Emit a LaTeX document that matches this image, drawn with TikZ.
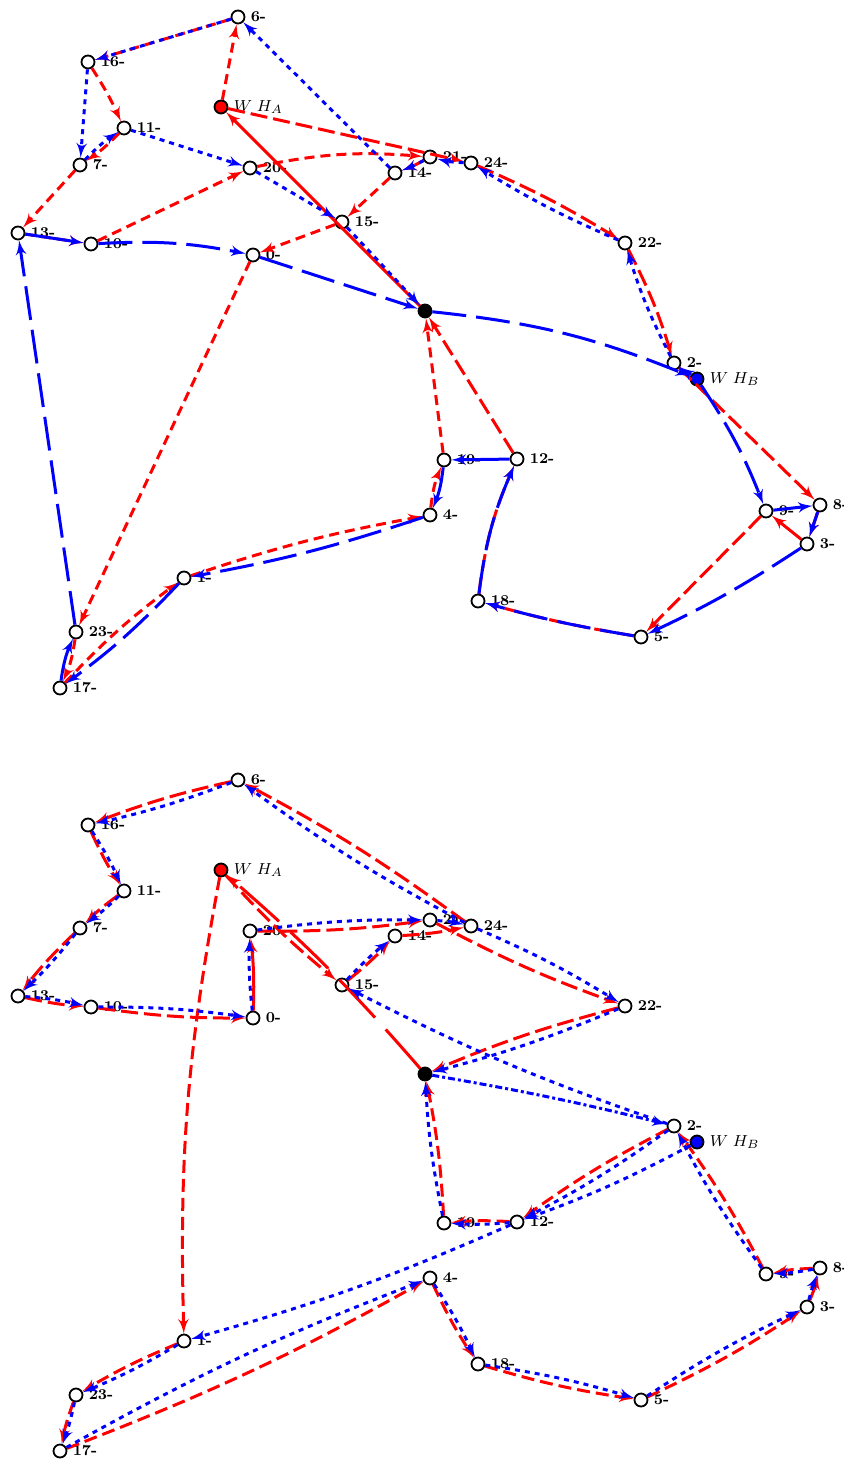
\documentclass[tikz,border=0pt]{standalone}
\usepackage{amssymb, amsmath}
\usepackage{tikz}
\usetikzlibrary{arrows}

\begin{document}
\begin{tikzpicture}[x=0.5pt, y=-0.5pt, >=latex',
    point/.style={circle, draw, fill=white, line width=0.9pt, minimum size=6.5pt, inner sep=0pt},
    lbl/.style={font=\fontsize{7.5}{8}\selectfont\bfseries, inner sep=1pt, label distance=1.5pt},
    whlbl/.style={font=\fontsize{8.5}{9}\selectfont, inner sep=1pt, label distance=1.5pt},
    edge/.style={->, line width=1.5pt},
    rd/.style={edge, red, dash pattern=on 5pt off 3pt},
    rdd/.style={edge, red, dash pattern=on 6.5pt off 3pt},
    rl/.style={edge, red, dash pattern=on 8.5pt off 3pt},
    rxl/.style={edge, red, dash pattern=on 26pt off 8pt},
    rs/.style={edge, red},
    bd/.style={edge, blue, dash pattern=on 2.5pt off 2.5pt},
    bl/.style={edge, blue, dash pattern=on 17pt off 5pt},
    bs/.style={edge, blue},
    bdd/.style={edge, blue, dash pattern=on 3.5pt off 1.5pt on 1.5pt off 1.5pt}]
\useasboundingbox (0,0) rectangle (844,1459);
\foreach \p/\dy in {a/0, b/763} {
  \foreach \n/\x/\y in {0/253/255, 1/184/578, 2/674/363, 3/807/544, 4/430/515,
      5/641/637, 6/238/17, 7/80/165, 8/820/505, 9/766/511, 10/91/244,
      11/124/128, 12/517/459, 13/18/233, 14/395/173, 15/342/222, 16/88/62,
      17/60/688, 18/478/601, 19/444/460, 20/250/168, 21/430/157, 22/625/243,
      23/76/632, 24/471/163}
    \node[point, label={[lbl]right:\n-}] (\p\n) at (\x,\y+\dy) {};
  \node[point, fill=red, label={[whlbl]right:$W\;H_A$}] (\p wa) at (221,107+\dy) {};
  \node[point, fill=blue, label={[whlbl]right:$W\;H_B$}] (\p wb) at (697,379+\dy) {};
  \node[point, fill=black] (\p h) at (425,311+\dy) {};
}

\foreach \s/\t/\b in {wa/6/0, 6/16/0, 16/11/4, 11/7/6, 7/13/0, 13/10/0, 10/20/0,
    20/21/8, 21/14/4, 14/15/0, 15/0/0, 0/23/0, 23/17/8, 17/1/5, 1/4/4, 4/19/8, 19/h/0}
  \draw[rd] (a\s) to[bend left=\b] (a\t);
\foreach \s/\t/\b in {wa/24/0, 24/22/4, 22/2/5, 2/8/0, 9/5/0, 5/18/3, 18/12/8, 12/h/0}
  \draw[rl] (a\s) to[bend left=\b] (a\t);
\foreach \s/\t in {8/3, 3/9, h/wa}
  \draw[rs] (a\s) -- (a\t);
\foreach \s/\t/\b in {wb/2/0, 2/22/5, 22/24/4, 24/21/6, 21/14/4, 14/6/0, 6/16/0,
    16/7/0, 7/11/6, 11/20/0, 20/15/0, 15/h/0}
  \draw[bd] (a\s) to[bend left=\b] (a\t);
\foreach \s/\t/\b in {wb/9/6, 3/5/4, 5/18/3, 18/12/8, 4/1/4, 1/17/5, 23/13/0,
    0/h/0, h/wb/8, 10/0/7}
  \draw[bl] (a\s) to[bend left=\b] (a\t);
\foreach \s/\t/\b in {9/8/0, 8/3/0, 12/19/0, 19/4/8, 17/23/8, 13/10/0}
  \draw[bs] (a\s) to[bend left=\b] (a\t);

\foreach \s/\t in {1/23, 23/17, 17/4, 4/18, 18/5, 5/3, 8/9, 9/2, 2/12, 12/19, 19/h}
  \draw[rdd] (b\s) to[bend right=4] (b\t);
\draw[rdd] (bwa) to[bend right=6] (b1);
\foreach \s/\t in {3/8, 0/20}
  \draw[rs] (b\s) to[bend right=4] (b\t);
\foreach \s/\t in {wa/15, 15/14, 14/24, 24/6, 6/16, 16/11, 11/7, 7/13,
    13/10, 10/0, 20/21, 21/22, 22/h}
  \draw[rl] (b\s) to[bend right=4] (b\t);
\draw[rxl] (bh) to[bend right=4] (bwa);
\foreach \s/\t in {24/6, 6/16, 16/11, 11/7, 7/13, 13/10, 10/0, 0/20, 20/21,
    21/24, 24/22, 22/h, 2/15, 15/14, wb/12, 2/12, 12/1, 1/23, 23/17, 17/4,
    4/18, 18/5, 5/3, 3/8, 8/9, 9/2, 12/19, 19/h}
  \draw[bd] (b\s) to[bend left=4] (b\t);
\draw[bdd] (bh) to[bend left=2] (b2);
\end{tikzpicture}
\end{document}
